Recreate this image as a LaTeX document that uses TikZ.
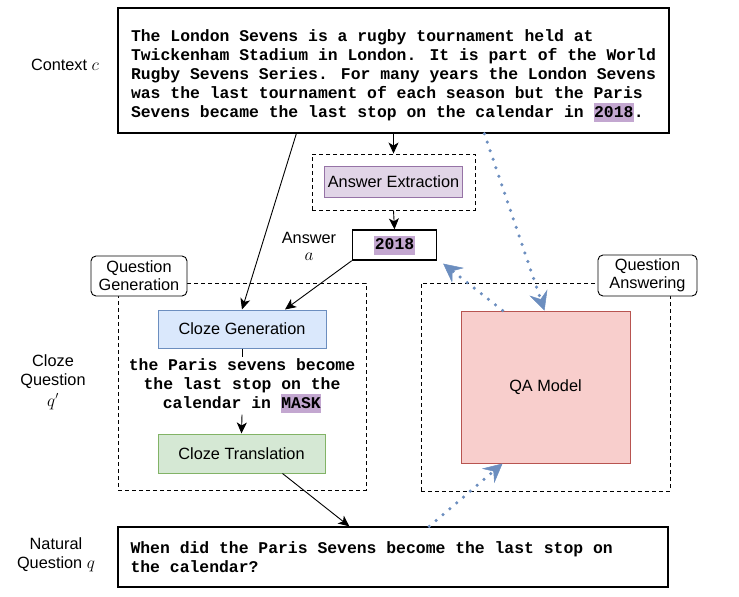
\documentclass[tikz,border=0pt]{standalone}
\usepackage{fontspec}
\setmainfont{Liberation Sans}
\newfontfamily\codefont{Liberation Mono}
\usetikzlibrary{arrows.meta}
\usetikzlibrary{calc}
\definecolor{hlpurple}{HTML}{C3A7D0}
\definecolor{extfill}{HTML}{E1D5E7}
\definecolor{extdraw}{HTML}{9673A6}
\definecolor{genfill}{HTML}{DAE8FC}
\definecolor{gendraw}{HTML}{6C8EBF}
\definecolor{transfill}{HTML}{D5E8D4}
\definecolor{transdraw}{HTML}{82B366}
\definecolor{qafill}{HTML}{F8CECC}
\definecolor{qadraw}{HTML}{B85450}
\definecolor{dotblue}{HTML}{6C8EBF}
\newcommand{\hl}[1]{{\setlength{\fboxsep}{0.5pt}\colorbox{hlpurple}{\rule[-4.5pt]{0pt}{18pt}#1}}}
\tikzset{
  lab/.style={font=\fontsize{16.3}{19}\selectfont, align=center},
  code/.style={font=\codefont\bfseries\fontsize{16.4}{19}\selectfont},
  textbox/.style={draw, line width=1.3pt},
  procbox/.style={draw, line width=1pt, lab, minimum height=#1},
  group/.style={draw, line width=0.9pt, dash pattern=on 4pt off 3pt},
  tag/.style={draw, fill=white, line width=0.9pt, rounded corners=5pt, lab, font=\fontsize{16.3}{18}\selectfont, inner sep=2pt},
  arr/.style={line width=0.9pt, -{Stealth[length=11pt,width=10pt,inset=3pt]}},
  qaarr/.style={draw=dotblue, line width=3.5pt, line cap=round, dash pattern=on 0pt off 9pt,
    -{Stealth[length=19pt,width=19pt,inset=7pt,fill=dotblue,line width=0.5pt]}}
}
\begin{document}
\begin{tikzpicture}[x=1pt,y=-1pt]
  \useasboundingbox (0,0) rectangle (739,597);
  % context and answer
  \node[textbox, code, align=left, minimum width=551pt, minimum height=125pt, inner sep=0pt] (ctx) at (393.5,70.5) {\rule{0pt}{22pt}The London Sevens is a rugby tournament held at\\
    Twickenham Stadium in London. It is part of the World\\
    Rugby Sevens Series. For many years the London Sevens\\
    was the last tournament of each season but the Paris\\
    Sevens became the last stop on the calendar in \hl{2018}.};
  \node[lab] (ctxlab) at (65,65) {Context $c$};
  \node[group, minimum width=163pt, minimum height=56pt] (extgrp) at (393.5,182) {};
  \node[procbox=31pt, fill=extfill, draw=extdraw, minimum width=138pt] (ext) at (393.5,181.5) {Answer Extraction};
  \node[textbox, code, minimum width=84pt, minimum height=30pt, inner sep=0pt] (ans) at (394.5,245) {\hl{2018}};
  \node[lab] (anslab) at (309,246) {Answer\\[-2pt]$a$};
  % question generation
  \node[group, minimum width=248pt, minimum height=207pt] (qggrp) at (242,386.5) {};
  \node[tag, minimum width=96pt, minimum height=40pt] (qgtag) at (139,276) {Question\\Generation};
  \node[procbox=38pt, fill=genfill, draw=gendraw, minimum width=168pt] (gen) at (242,329) {Cloze Generation};
  \node[code, align=center, inner sep=1pt] (cloze) at (242,386) {the Paris sevens become\\the last stop on the\\calendar in \hl{MASK}};
  \node[procbox=39pt, fill=transfill, draw=transdraw, minimum width=167pt] (trans) at (241.5,453.5) {Cloze Translation};
  \node[lab] (clozelab) at (53,382) {Cloze\\Question\\[2pt]$q'$};
  % question answering
  \node[group, minimum width=249pt, minimum height=208pt] (qagrp) at (545.5,387) {};
  \node[tag, minimum width=99pt, minimum height=41pt] (qatag) at (647.5,275.5) {Question\\Answering};
  \node[procbox=152pt, fill=qafill, draw=qadraw, minimum width=169pt] (qa) at (545.5,387) {QA Model};
  % natural question
  \node[textbox, minimum width=550pt, minimum height=60pt] (nq) at (393,557) {};
  \node[code, align=left, anchor=west, inner sep=0pt] (nqtext) at ($(nq.west)+(13,0)$) {When did the Paris Sevens become the last stop on\\the calendar?};
  \node[lab] (nqlab) at (56,555) {Natural\\Question $q$};
  % connectors
  \draw[arr] (ctx.south) -- (extgrp.north);
  \draw[arr] (extgrp.south) -- (ans.north);
  \draw[arr] ($(ctx.south west)+(179,0)$) -- (gen.north);
  \draw[arr] (ans.south west) -- ($(gen.north)+(43,0)$);
  \draw[line width=0.9pt] (gen.south) -- (cloze.north);
  \draw[arr] (cloze.south) -- (trans.north);
  \draw[arr] ($(trans.south)+(41,0)$) -- ($(nq.north west)+(232,0)$);
  \draw[qaarr] ($(ctx.south west)+(367,0)$) -- ($(qa.north west)+(84,0)$);
  \draw[qaarr] ($(qa.north west)+(42,0)$) -- ($(ans.south east)+(6,3)$);
  \draw[qaarr] ($(nq.north west)+(312,0)$) -- ($(qa.south west)+(42,0)$);
\end{tikzpicture}
\end{document}
